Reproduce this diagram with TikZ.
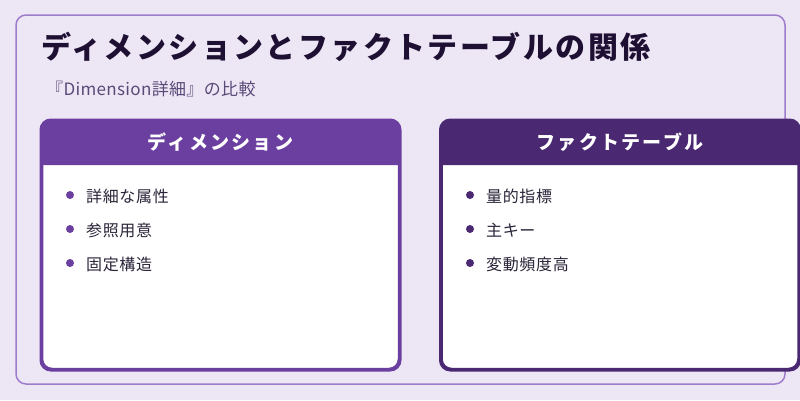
\documentclass[tikz,border=0pt]{standalone}
\usepackage{fontspec}
\setmainfont{Noto Sans CJK JP}
\newfontfamily\jpsp[LetterSpace=12]{Noto Sans CJK JP}
\newfontfamily\jpbody[LetterSpace=4]{Noto Sans CJK JP}
\definecolor{bgc}{HTML}{EDE7F5}
\definecolor{framec}{HTML}{9D7DCB}
\definecolor{dimc}{HTML}{6B3FA0}
\definecolor{factc}{HTML}{4A2872}
\definecolor{titlec}{HTML}{1E1033}
\definecolor{subc}{HTML}{5A4A78}
\definecolor{bodyc}{HTML}{2A2438}
\tikzset{
  frame/.style={draw=framec, line width=1.5pt, rounded corners=10pt, inner sep=0pt},
  card/.style={draw=#1, line width=2.5pt, fill=white, rounded corners=10pt, inner sep=0pt,
    minimum width=357pt, minimum height=248pt},
  headtext/.style={text=white, font=\jpsp\fontsize{19}{22}\selectfont\bfseries, anchor=center},
  dot/.style={circle, fill=#1, inner sep=0pt, minimum size=8pt},
  itemtext/.style={text=bodyc, font=\jpbody\fontsize{16}{19}\selectfont, anchor=west, inner sep=0pt},
}
\begin{document}
\begin{tikzpicture}[x=1pt, y=-1pt]
\fill[bgc] (0,0) rectangle (800,400);
\useasboundingbox (0,0) rectangle (800,400);
\node[frame, minimum width=769pt, minimum height=369pt] (frame) at (400.5,199.5) {};
\node[anchor=west, inner sep=0pt, text=titlec, font=\fontsize{30}{34}\selectfont\bfseries\addfontfeature{LetterSpace=8}] (title) at (41,47) {ディメンションとファクトテーブルの関係};
\node[anchor=west, inner sep=0pt, text=subc, font=\fontsize{17}{20}\selectfont\addfontfeature{LetterSpace=2}] (sub) at (46,89) {『Dimension詳細』の比較};
% left card
\node[card=dimc] (dim) at (220.5,245) {};
\fill[dimc] (dim.west |- 0,165) -- ([yshift=-10pt]dim.north west) arc[start angle=180, end angle=90, radius=10pt] -- ([xshift=-10pt]dim.north east) arc[start angle=90, end angle=0, radius=10pt] -- (dim.east |- 0,165) -- cycle;
\draw[dimc, line width=2.5pt, rounded corners=10pt] (dim.north west) rectangle (dim.south east);
\node[headtext] (dimhead) at (220.5,142) {ディメンション};
% right card
\node[card=factc] (fact) at (620,245) {};
\fill[factc] (fact.west |- 0,165) -- ([yshift=-10pt]fact.north west) arc[start angle=180, end angle=90, radius=10pt] -- ([xshift=-10pt]fact.north east) arc[start angle=90, end angle=0, radius=10pt] -- (fact.east |- 0,165) -- cycle;
\draw[factc, line width=2.5pt, rounded corners=10pt] (fact.north west) rectangle (fact.south east);
\node[headtext] (facthead) at (620,142) {ファクトテーブル};
% left items
\node[dot=dimc] (d1) at (70,195) {};
\node[itemtext] (t1) at (86,196) {詳細な属性};
\node[dot=dimc] (d2) at (70,229) {};
\node[itemtext] (t2) at (86,230) {参照用意};
\node[dot=dimc] (d3) at (70,263) {};
\node[itemtext] (t3) at (86,264) {固定構造};
% right items
\node[dot=factc] (f1) at (470,195) {};
\node[itemtext] (u1) at (486,196) {量的指標};
\node[dot=factc] (f2) at (470,229) {};
\node[itemtext] (u2) at (486,230) {主キー};
\node[dot=factc] (f3) at (470,263) {};
\node[itemtext] (u3) at (486,264) {変動頻度高};
\end{tikzpicture}
\end{document}
